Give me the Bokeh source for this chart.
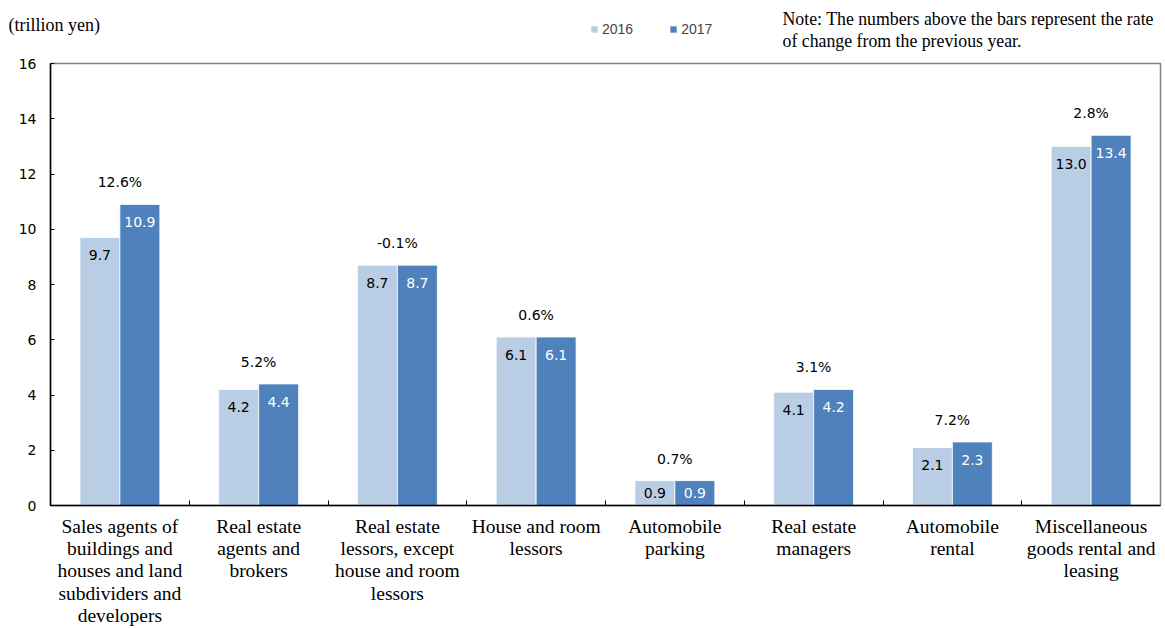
from bokeh.plotting import figure
from bokeh.layouts import column
from bokeh.models import (ColumnDataSource, Range1d, LinearAxis,
                          FixedTicker, Legend, LegendItem)
from bokeh.core.properties import value
from bokeh.embed import file_html
from bokeh.resources import INLINE

categories = [
    "Sales agents of\nbuildings and\nhouses and land\nsubdividers and\ndevelopers",
    "Real estate\nagents and\nbrokers",
    "Real estate\nlessors, except\nhouse and room\nlessors",
    "House and room\nlessors",
    "Automobile\nparking",
    "Real estate\nmanagers",
    "Automobile\nrental",
    "Miscellaneous\ngoods rental and\nleasing",
]
years = ["2016", "2017"]
values_2016 = [9.7, 4.2, 8.7, 6.1, 0.9, 4.1, 2.1, 13.0]
values_2017 = [10.9, 4.4, 8.7, 6.1, 0.9, 4.2, 2.3, 13.4]
rates = ["12.6%", "5.2%", "-0.1%", "0.6%", "0.7%", "3.1%", "7.2%", "2.8%"]
y_ticks = [0, 2, 4, 6, 8, 10, 12, 14, 16]
unit_text = "(trillion yen)"
note_lines = ["Note: The numbers above the bars represent the rate",
              "of change from the previous year."]

C16 = "#B9CDE5"
C17 = "#4F81BD"
SANS = "Liberation Sans"
NUM = "DejaVu Sans"
SERIF = "Liberation Serif"

W_TOTAL = 1165
HEADER_H = 52
MAIN_H = 628 - HEADER_H

n = len(categories)
centers = [i + 0.5 for i in range(n)]
OFF = 0.144
W = 0.288

src = ColumnDataSource(dict(
    xc=centers,
    x16=[c - OFF for c in centers],
    x17=[c + OFF for c in centers],
    v16=values_2016,
    v17=values_2017,
    t16=[f"{v:.1f}" for v in values_2016],
    t17=[f"{v:.1f}" for v in values_2017],
    l16=[v - min(0.65, v / 2) for v in values_2016],
    l17=[v - min(0.65, v / 2) for v in values_2017],
    top=[max(a, b) for a, b in zip(values_2016, values_2017)],
    rate=rates,
))

# ---------------- header (unit, legend, note) ----------------
h = figure(width=W_TOTAL, height=HEADER_H, output_backend="svg", toolbar_location=None,
           x_range=Range1d(0, W_TOTAL), y_range=Range1d(HEADER_H, 0),
           x_axis_location=None, y_axis_location=None,
           min_border_left=0, min_border_right=0, min_border_top=0, min_border_bottom=0)
h.frame_align = False
h.xgrid.visible = False
h.ygrid.visible = False
h.outline_line_color = None
h.text(x=[8], y=[24], text=[unit_text], text_font=value(SERIF), text_font_size="18px",
       text_baseline="middle", text_align="left", text_color="black")
h.text(x=[782, 782], y=[18, 40], text=note_lines, text_font=value(SERIF), text_font_size="17.8px",
       text_baseline="middle", text_align="left", text_color="black")
hr16 = h.vbar(x=[0], top=[0], width=0, fill_color=C16, line_color=None)
hr17 = h.vbar(x=[0], top=[0], width=0, fill_color=C17, line_color=None)
legend = Legend(items=[LegendItem(label=years[0], renderers=[hr16]),
                       LegendItem(label=years[1], renderers=[hr17])],
                orientation="horizontal", location=(590, HEADER_H - 39),
                label_text_font=SANS, label_text_font_size="14px",
                glyph_width=8, glyph_height=8, spacing=36, padding=0, margin=0,
                label_standoff=4, label_height=20, border_line_color=None,
                background_fill_alpha=0)
h.add_layout(legend, "center")

# ---------------- main chart ----------------
p = figure(width=W_TOTAL, height=MAIN_H, output_backend="svg", toolbar_location=None,
           x_range=Range1d(0, n), y_range=Range1d(y_ticks[0], y_ticks[-1]),
           x_axis_location=None, y_axis_location=None,
           min_border_left=50, min_border_right=5, min_border_top=63 - HEADER_H,
           min_border_bottom=123)
p.frame_align = False
p.xgrid.visible = False
p.ygrid.visible = False
p.outline_line_color = "#7F7F7F"
p.outline_line_width = 1.5
p.background_fill_color = "white"
p.border_fill_color = "white"

ya = LinearAxis(ticker=FixedTicker(ticks=y_ticks))
ya.axis_line_color = "black"
ya.axis_line_width = 1.5
ya.major_tick_in = 4
ya.major_tick_out = 0
ya.minor_tick_line_color = None
ya.major_tick_line_color = "black"
ya.major_label_text_font = NUM
ya.major_label_text_font_size = "14px"
ya.major_label_text_color = "black"
ya.major_label_standoff = 14
p.add_layout(ya, "left")

bx = LinearAxis(ticker=FixedTicker(ticks=list(range(1, n))))
bx.axis_line_color = "black"
bx.axis_line_width = 1.5
bx.major_tick_in = 5
bx.major_tick_out = 0
bx.minor_tick_line_color = None
bx.major_label_text_font_size = "0px"
bx.major_label_standoff = 0
p.add_layout(bx, "below")

cx = LinearAxis(ticker=FixedTicker(ticks=centers),
                major_label_overrides={c: lab for c, lab in zip(centers, categories)})
cx.axis_line_color = None
cx.major_tick_line_color = None
cx.minor_tick_line_color = None
cx.major_label_text_font = SERIF
cx.major_label_text_font_size = "19.5px"
cx.major_label_text_color = "black"
cx.major_label_text_line_height = 1.065
cx.major_label_standoff = 4
p.add_layout(cx, "below")

p.vbar(x="x16", top="v16", width=W, source=src, fill_color=C16, line_color="white", line_width=0.8)
p.vbar(x="x17", top="v17", width=W, source=src, fill_color=C17, line_color="white", line_width=0.8)

p.text(x="x16", y="l16", text="t16", source=src,
       text_align="center", text_baseline="middle", text_font_size="14px",
       text_color="black", text_font=value(NUM))
p.text(x="x17", y="l17", text="t17", source=src,
       text_align="center", text_baseline="middle", text_font_size="14px",
       text_color="white", text_font=value(NUM))
p.text(x="xc", y="top", text="rate", source=src, y_offset=-22,
       text_align="center", text_baseline="middle", text_font_size="14px",
       text_color="black", text_font=value(NUM))

layout = column(h, p, spacing=0)
open("out.html", "w").write(file_html(layout, INLINE))
